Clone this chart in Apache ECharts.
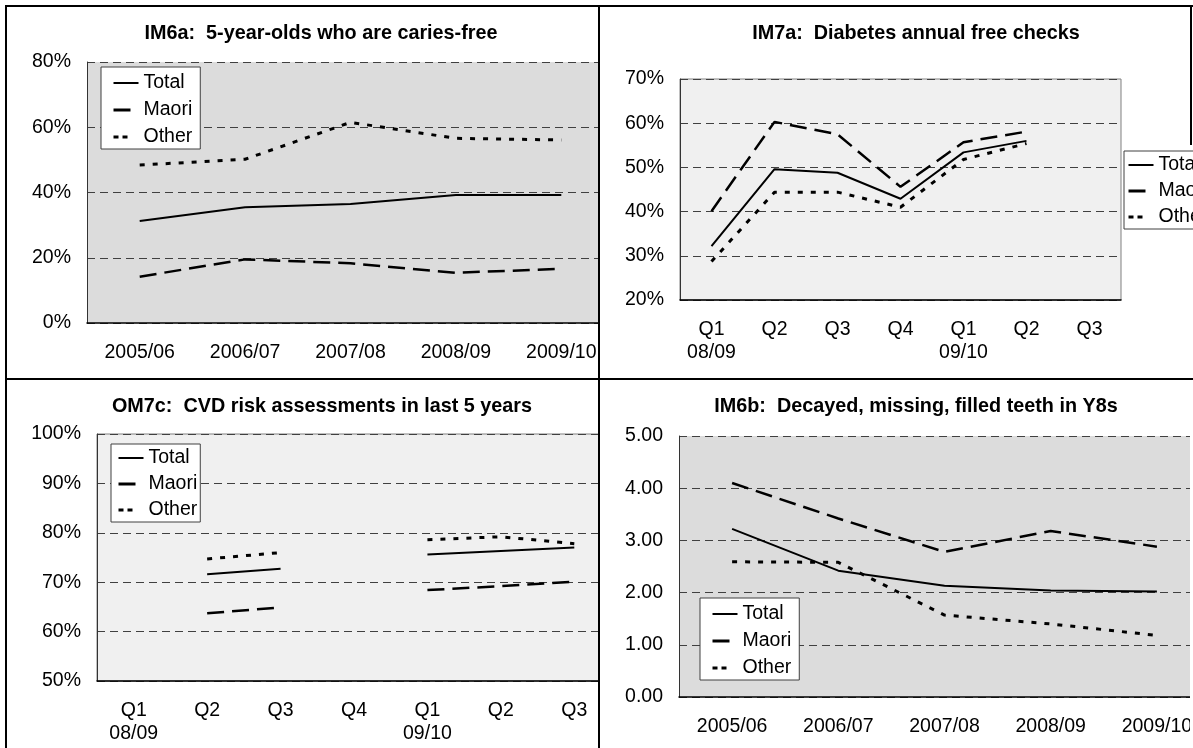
<!DOCTYPE html>
<html><head><meta charset="utf-8">
<script src="https://cdn.jsdelivr.net/npm/echarts/dist/echarts.min.js"></script>
<style>
html,body{margin:0;padding:0;overflow:hidden;background:#fff;width:1193px;height:748px;position:relative;}
.clip{position:absolute;overflow:hidden;}
.chart{position:absolute;width:1300px;height:800px;}
.ln{position:absolute;background:#000;}
</style></head><body>
<div class="clip" style="left:7px;top:7px;width:591px;height:371px"><div class="chart" id="ch1" style="left:-7px;top:-7px"></div></div>
<div class="clip" style="left:600px;top:7px;width:593px;height:371px"><div class="chart" id="ch2" style="left:-600px;top:-7px"></div></div>
<div class="clip" style="left:7px;top:380px;width:591px;height:368px"><div class="chart" id="ch3" style="left:-7px;top:-380px"></div></div>
<div class="clip" style="left:600px;top:380px;width:590px;height:368px"><div class="chart" id="ch4" style="left:-600px;top:-380px"></div></div>
<div class="ln" style="left:5px;top:5px;width:1188px;height:2px"></div>
<div class="ln" style="left:5px;top:5px;width:2px;height:743px"></div>
<div class="ln" style="left:598px;top:5px;width:2px;height:743px"></div>
<div class="ln" style="left:5px;top:378px;width:1188px;height:2px"></div>
<div class="ln" style="left:1190px;top:5px;width:2px;height:140px"></div>
<script>
// ---- data ----
const yearCats = ['2005/06', '2006/07', '2007/08', '2008/09', '2009/10'];
const quarterCats = ['Q1\n08/09', 'Q2', 'Q3', 'Q4', 'Q1\n09/10', 'Q2', 'Q3'];
const seriesNames = ['Total', 'Maori', 'Other'];

// IM6a: 5-year-olds who are caries-free (%)
const im6aTotal = [31.3, 35.5, 36.5, 39.2, 39.2];
const im6aMaori = [14.2, 19.5, 18.3, 15.4, 16.6];
const im6aOther = [48.4, 50.2, 61.5, 56.6, 56.1];
const im6aAxis = [0, 80, 20];

// IM7a: Diabetes annual free checks (%)
const im7aTotal = [32.2, 49.6, 48.8, 42.9, 53.4, 56.0, null];
const im7aMaori = [40.1, 60.3, 57.5, 45.6, 55.7, 58.1, null];
const im7aOther = [28.7, 44.4, 44.4, 41.0, 51.8, 55.4, null];
const im7aAxis = [20, 70, 10];

// OM7c: CVD risk assessments in last 5 years (%)
const om7cTotal = [null, 71.6, 72.7, null, 75.6, 76.3, 77.0];
const om7cMaori = [null, 63.7, 64.9, null, 68.4, 69.2, 70.1];
const om7cOther = [null, 74.7, 76.0, null, 78.6, 79.2, 77.8];
const om7cAxis = [50, 100, 10];

// IM6b: Decayed, missing, filled teeth in Y8s
const im6bTotal = [3.22, 2.42, 2.13, 2.04, 2.02];
const im6bMaori = [4.10, 3.42, 2.78, 3.18, 2.88];
const im6bOther = [2.59, 2.58, 1.57, 1.40, 1.18];
const im6bAxis = [0, 5, 1];

// ---- styles ----
const FONT = '"Liberation Sans", Arial, Helvetica, sans-serif';
const FS = 19.5;
const lineStyles = [
  { color: '#000', width: 2, type: 'solid' },
  { color: '#000', width: 2.5, type: [17, 8] },
  { color: '#000', width: 3, type: [5, 8] }
];
const legendLineStyles = [
  { color: '#000', width: 2, type: 'solid' },
  { color: '#000', width: 3, type: [17, 30] },
  { color: '#000', width: 3, type: [5, 4, 5, 30] }
];

function makeChart(id, cfg) {
  const chart = echarts.init(document.getElementById(id), null, { renderer: 'canvas' });
  const option = {
    animation: false,
    backgroundColor: 'transparent',
    graphic: [{
      type: 'text', x: cfg.title[1], y: cfg.title[2], z: 100,
      style: {
        text: cfg.title[0], fill: '#000',
        font: 'bold 19.8px ' + FONT,
        textAlign: 'center', textVerticalAlign: 'middle',
        align: 'center', verticalAlign: 'middle'
      }
    }],
    grid: {
      left: cfg.grid[0], top: cfg.grid[1], width: cfg.grid[2], height: cfg.grid[3],
      show: true, backgroundColor: cfg.bg, borderWidth: cfg.border ? 1 : 0,
      borderColor: '#808080', outerBoundsMode: 'none', containLabel: false
    },
    legend: {
      orient: 'vertical', left: cfg.legend[0], top: cfg.legend[1],
      data: seriesNames.map((n, i) => ({ name: n, lineStyle: legendLineStyles[i] })),
      itemWidth: 25, itemHeight: 14, itemGap: cfg.legendGap,
      padding: cfg.legendPad,
      backgroundColor: '#fff', borderColor: '#404040', borderWidth: 1, borderRadius: 0,
      selectedMode: false,
      itemStyle: { color: 'rgba(0,0,0,0)', borderColor: 'rgba(0,0,0,0)', borderWidth: 0, opacity: 0 },
      textStyle: { fontSize: FS, fontFamily: FONT, color: '#000', lineHeight: 20 }
    },
    xAxis: {
      type: 'category', data: cfg.cats, boundaryGap: true,
      axisLine: { show: true, lineStyle: { color: '#000', width: 1.5 } },
      axisTick: { show: false },
      axisLabel: { interval: 0, margin: 18, color: '#000', fontSize: FS, fontFamily: FONT, lineHeight: 23 },
      splitLine: { show: false }
    },
    yAxis: {
      type: 'value', min: cfg.axis[0], max: cfg.axis[1], interval: cfg.axis[2],
      axisLine: { show: true, lineStyle: { color: '#333', width: 1 } },
      axisTick: { show: false },
      axisLabel: { margin: 16, color: '#000', fontSize: FS, fontFamily: FONT, formatter: cfg.fmt },
      splitLine: { show: true, lineStyle: { color: '#404040', width: 1, type: [8, 5] } }
    },
    series: cfg.data.map((d, i) => ({
      name: seriesNames[i], type: 'line', data: d, symbol: 'none', showSymbol: false,
      connectNulls: false, lineStyle: lineStyles[i], itemStyle: { color: '#000' },
      emphasis: { disabled: true }, z: 3 - i
    }))
  };
  chart.setOption(option);
}

const pct = v => v + '%';
const dec = v => v.toFixed(2);

makeChart('ch1', {
  title: ['IM6a:  5-year-olds who are caries-free', 321, 34],
  grid: [87, 62, 527, 261], bg: '#dcdcdc', border: false,
  legend: [101, 67], legendGap: 7, legendPad: [6, 8, 2, 11],
  cats: yearCats, axis: im6aAxis, fmt: pct,
  data: [im6aTotal, im6aMaori, im6aOther]
});
makeChart('ch2', {
  title: ['IM7a:  Diabetes annual free checks', 916, 34],
  grid: [680, 79, 441, 221], bg: '#f0f0f0', border: true,
  legend: [1124, 151], legendGap: 6, legendPad: [4, 10, 2, 3],
  cats: quarterCats, axis: im7aAxis, fmt: pct,
  data: [im7aTotal, im7aMaori, im7aOther]
});
makeChart('ch3', {
  title: ['OM7c:  CVD risk assessments in last 5 years', 322, 407],
  grid: [97, 434, 514, 247], bg: '#f0f0f0', border: true,
  legend: [111, 444], legendGap: 6, legendPad: [4, 3, 2, 6],
  cats: quarterCats, axis: om7cAxis, fmt: pct,
  data: [om7cTotal, om7cMaori, om7cOther]
});
makeChart('ch4', {
  title: ['IM6b:  Decayed, missing, filled teeth in Y8s', 916, 407],
  grid: [679, 436, 531, 261], bg: '#dcdcdc', border: false,
  legend: [700, 598], legendGap: 7, legendPad: [6, 8, 2, 11],
  cats: yearCats, axis: im6bAxis, fmt: dec,
  data: [im6bTotal, im6bMaori, im6bOther]
});
</script>
</body></html>
